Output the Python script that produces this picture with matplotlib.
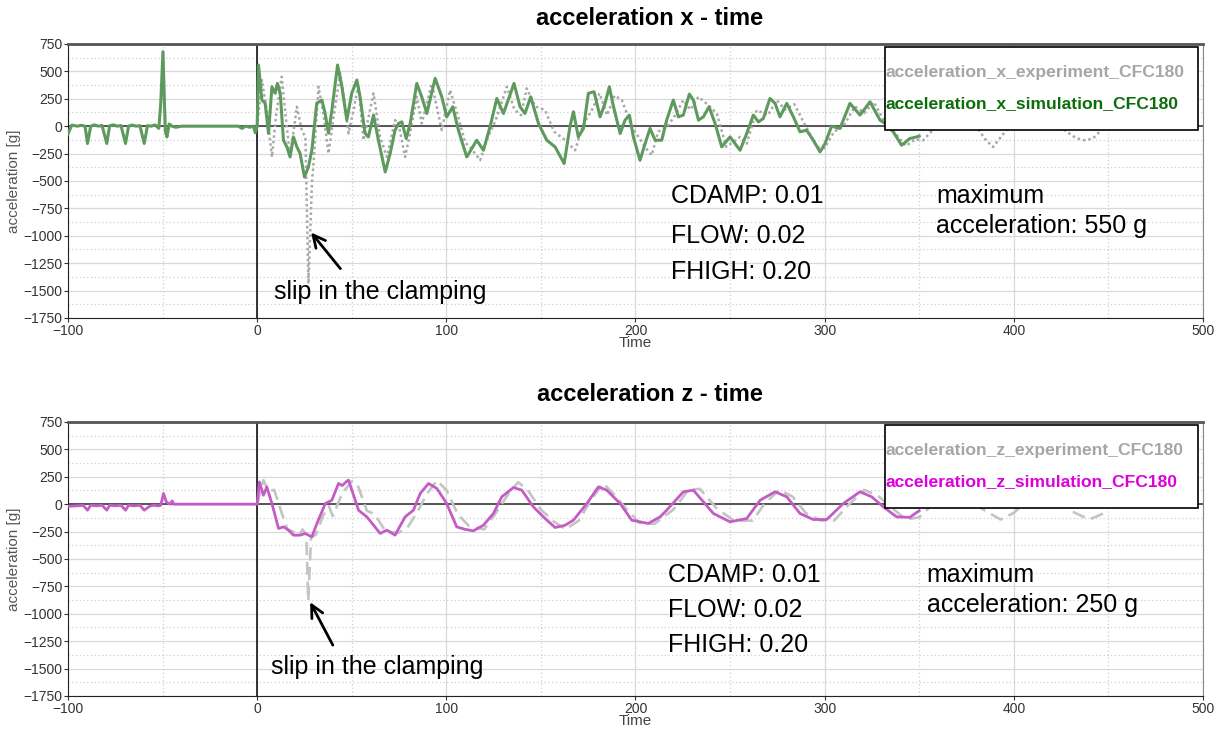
import numpy as np
import matplotlib
matplotlib.use('Agg')
import matplotlib.pyplot as plt
from matplotlib.patches import Rectangle
from matplotlib.ticker import MultipleLocator

# ---- data: (time, acceleration [g]) ----
accXSim = [
    (-100, -70), (-98, 10), (-95, 0), (-93, 8), (-91, 0), (-89.7, -158), (-88, 0), (-86, 12),
    (-84, 0), (-82, 6), (-79.5, -158), (-78, 4), (-76, 12), (-74, 0), (-72, 6), (-69.6, -158),
    (-68, 0), (-66, 10), (-64, 0), (-62, 5), (-59.7, -158), (-58, 5), (-56, 0), (-54, 12),
    (-52, -20), (-51, 200), (-49.8, 680), (-49, 200), (-48.5, -50), (-47.7, -98), (-46.5, 20),
    (-45, 0), (-43, -10), (-40, 0), (-10, 0), (-8, -20), (-6, 0), (-4, -10), (-2, 0), (-1, -60),
    (0, 0), (0.7, 558), (2.5, 238), (4.2, 210), (6, -67), (7.8, 360), (9.5, 300), (10.7, 390),
    (12.2, 300), (13.9, -128), (15.7, -189), (17.4, -281), (19.2, -98), (21, -189), (22.7, -250),
    (25, -464), (27.1, -372), (28.9, -220), (31.5, 210), (34.2, 238), (35.9, 119), (37.7, -64),
    (39.5, 146), (42.5, 558), (44.8, 360), (47.4, 55), (50, 300), (52.7, 421), (54.4, 268),
    (57, -64), (58.8, -98), (61.5, 101), (64.1, -128), (67.7, -418), (70.3, -250), (72.9, -37),
    (74.7, 25), (76.5, 39), (78.8, -113), (80.9, 25), (84.4, 390), (87, 268), (89.7, 116),
    (94.1, 436), (97.6, 268), (100.2, 85), (103.4, 177), (106.4, -37), (110.8, -281),
    (116.1, -128), (119.6, -220), (123.2, 0), (126.7, 253), (130.2, 116), (135.8, 390),
    (139, 177), (141.6, 116), (144.6, 268), (148.7, 25), (153.1, -128), (157.5, -189),
    (162.3, -341), (165.4, 0), (167.2, 131), (169.8, -98), (172.5, -21), (175.1, 300),
    (178.1, 314), (181.3, 85), (183.9, 208), (186.2, 360), (188.4, 177), (191.9, -67),
    (194.5, 55), (196.8, 101), (198.9, -98), (202.4, -311), (205.1, -159), (207.7, -21),
    (210.4, -128), (213.9, -128), (216.5, 55), (220, 238), (222.7, 85), (225.3, 101),
    (228.5, 293), (230.6, 238), (233.3, 55), (235.9, 85), (238.9, 177), (242.1, 25),
    (245.6, -189), (250, -98), (255.3, -220), (258.8, -67), (262.3, 101), (265, 39),
    (267.6, 70), (271.1, 253), (273.8, 208), (276.4, 85), (280, 208), (283.5, 85), (287, -52),
    (290.5, -37), (294, -128), (297.6, -235), (300.2, -159), (303.7, 0), (308.1, -21),
    (313.4, 208), (318.7, 101), (324, 222), (329.3, 55), (332, 25), (336.3, -52),
    (340.7, -174), (345, -113), (348.7, -98), (350, -90),
]
accXExp = [
    (0, 0), (2.5, 420), (5, 150), (7.8, -281), (10, 100), (13, 451), (15, 100), (17.4, -281),
    (21, 177), (23.6, -37), (25.5, -100), (27.1, -1437), (29, -500), (29.8, -341), (32.4, 360),
    (35, 116), (37.7, -250), (40.4, 85), (43.9, 482), (46, 250), (48.3, -67), (51, 150),
    (53.5, 380), (56.2, -128), (58.5, 50), (61.5, 300), (65, -98), (68.6, -281), (72.9, 55),
    (75, 0), (78.2, -281), (81, -50), (84.4, 268), (87, 25), (92.3, 390), (97.6, -37),
    (102, 329), (106, 100), (110, -150), (113, -200), (117.9, -311), (122, -100), (126, 50),
    (132, 360), (136, 150), (139.5, 100), (142.5, 345), (147, 180), (152.2, 146), (157, -50),
    (162.8, -128), (168.1, -220), (172, 0), (177, 150), (181, 300), (185, 100), (189, 280),
    (192.8, 238), (198, 0), (205, -189), (208.6, -265), (212, -50), (217, 0), (221, 100),
    (225.3, 238), (229, 150), (233.3, 268), (238, 200), (243, 116), (248, -189), (255.3, -98),
    (258.8, -159), (264.1, 146), (270, 100), (274.7, 238), (279, 150), (284, 200), (290, 0),
    (295.8, -189), (300, -200), (305, -50), (310, 0), (316, 180), (321, 120), (326, 220),
    (332, 30), (338, -80), (343, -180), (348, -120), (352, -130), (358, -20), (365, 150),
    (372, 100), (380, 0), (385, -120), (389, -190), (395, -60), (402, 80), (410, 150),
    (420, 50), (428, -50), (433, -110), (438, -130), (442, -110), (446, -40),
]
accZSim = [
    (-100, -20), (-95, -15), (-92, -10), (-89.7, -55), (-88, -10), (-85, -15), (-82, -10),
    (-79.5, -55), (-78, -10), (-75, -15), (-72, -10), (-69.6, -55), (-68, -10), (-65, -15),
    (-62, -10), (-59.7, -55), (-57, -20), (-55, -10), (-52, -15), (-51, -10), (-49.5, 98),
    (-48, 20), (-46, 0), (-45, 30), (-44, 0), (-40, 0), (0, 0), (1.2, 203), (3.3, 82),
    (5.1, 158), (7.8, 6), (11.3, -222), (13.9, -207), (16.6, -237), (19.2, -283), (22.7, -283),
    (25.4, -267), (28.9, -298), (31.6, -176), (36, 6), (39.5, 36), (43, 189), (45, 170),
    (47.4, 210), (48.3, 219), (51, 80), (53.6, -55), (58, -116), (61, -180), (65, -267),
    (68.6, -237), (72.9, -283), (78.2, -116), (82.6, -55), (86.2, 98), (90.6, 189), (95, 143),
    (100.2, 6), (105.5, -207), (110, -230), (114.3, -243), (119.6, -192), (124.9, -85),
    (129.3, 67), (135.5, 152), (139.9, 128), (146, -24), (151.3, -116), (157.5, -213),
    (162.8, -192), (167.2, -146), (174.3, 6), (180.4, 158), (184.8, 128), (191.9, 6),
    (198, -146), (206.8, -176), (213, -116), (216.5, -55), (225.3, 113), (230.6, 128),
    (241.2, -85), (250, -161), (258.8, -131), (265.9, 36), (273.8, 113), (280, 67),
    (287, -85), (294, -140), (301.1, -140), (309.9, 6), (318.7, 113), (324.9, 67),
    (331, -24), (338.1, -116), (345, -120), (350, -60),
]
accZExp = [
    (0, 0), (3.3, 219), (6, 120), (9, 130), (13, -80), (16, -230), (19, -250), (22, -290),
    (24, -230), (26, -280), (27, -880), (28.5, -300), (31, -280), (35, -100), (38, -20),
    (40, -110), (45, 100), (50, 210), (53, 180), (58, -60), (62, -90), (68, -250), (75, -260),
    (80, -200), (85, -60), (90, 100), (95, 215), (100, 130), (106, -90), (112, -200),
    (120, -230), (127, -60), (133, 100), (138, 200), (143, 130), (150, -50), (157, -160),
    (163, -230), (170, -150), (177, 50), (183, 190), (188, 100), (195, -40), (202, -170),
    (210, -180), (220, -50), (228, 130), (234, 140), (243, -40), (252, -150), (262, -150),
    (268, 0), (276, 130), (283, 70), (290, -80), (298, -150), (305, -150), (313, 0),
    (321, 130), (328, 80), (336, -40), (343, -140), (350, -120), (356, -20), (365, 100),
    (375, 100), (383, -40), (393, -140), (400, -80), (410, 80), (420, 100), (430, -60),
    (440, -140), (448, -80),
]

titles = ['acceleration x - time', 'acceleration z - time']
legendLabels = [['acceleration_x_experiment_CFC180', 'acceleration_x_simulation_CFC180'],
                ['acceleration_z_experiment_CFC180', 'acceleration_z_simulation_CFC180']]
paramLines = ['CDAMP: 0.01', 'FLOW: 0.02', 'FHIGH: 0.20']
maxLines = [['maximum', 'acceleration: 550 g'], ['maximum', 'acceleration: 250 g']]
slipText = 'slip in the clamping'

plt.rcParams['font.family'] = ['Liberation Sans', 'DejaVu Sans']
bigText = 18


def styleAxes(ax):
    ax.set_xlim(-100, 500)
    ax.set_ylim(-1750, 750)
    ax.xaxis.set_major_locator(MultipleLocator(100))
    ax.xaxis.set_minor_locator(MultipleLocator(50))
    ax.yaxis.set_major_locator(MultipleLocator(250))
    ax.yaxis.set_minor_locator(MultipleLocator(125))
    ax.grid(which='major', color='#d9d9d9', linewidth=0.9, linestyle='-')
    ax.grid(which='minor', color='#cfcfcf', linewidth=0.9, linestyle=(0, (1, 2)))
    ax.set_axisbelow(True)
    ax.tick_params(which='minor', length=0)
    ax.tick_params(which='major', length=3, width=0.8, color='#333333', pad=1,
                   labelsize=10, labelcolor='#333333')
    ax.spines['top'].set_color('#555555')
    ax.spines['top'].set_linewidth(2)
    ax.spines['right'].set_color('#888888')
    ax.spines['left'].set_color('#222222')
    ax.spines['bottom'].set_color('#222222')
    ax.axhline(0, color='#555555', linewidth=1.4, zorder=2)
    ax.axvline(0, color='black', linewidth=1.1, zorder=2)
    ax.set_xlabel('Time', fontsize=11, color='#444444', labelpad=-1)
    ax.set_ylabel('acceleration [g]', fontsize=11, color='#555555', labelpad=2)


def drawLegend(ax, labels, colors):
    ax.add_patch(Rectangle((0.72, 0.686), 0.2756, 0.303, transform=ax.transAxes,
                           facecolor='white', edgecolor='black', linewidth=1.2, zorder=10))
    ax.text(0.7205, 0.896, labels[0], transform=ax.transAxes, color=colors[0], fontsize=12.6,
            fontweight='bold', va='center', ha='left', zorder=11)
    ax.text(0.7205, 0.783, labels[1], transform=ax.transAxes, color=colors[1], fontsize=12.6,
            fontweight='bold', va='center', ha='left', zorder=11)


def drawNotes(ax, xParam, yParams, xMax, yMax, maxText, slipXY, arrowTail, arrowHead):
    for i, y in enumerate(yParams):
        ax.text(xParam, y, paramLines[i], fontsize=bigText, va='center', ha='left')
    ax.text(xMax, yMax[0], maxText[0], fontsize=bigText, va='center', ha='left')
    ax.text(xMax, yMax[1], maxText[1], fontsize=bigText, va='center', ha='left')
    ax.text(slipXY[0], slipXY[1], slipText, fontsize=bigText, va='center', ha='left')
    ax.annotate('', xy=arrowHead, xytext=arrowTail,
                arrowprops=dict(arrowstyle='->', color='black', lw=2, mutation_scale=22,
                                shrinkA=0, shrinkB=0))


fig = plt.figure(figsize=(12.19, 7.34), dpi=100)
axTop = fig.add_axes([0.0558, 0.5668, 0.931, 0.3733])
axBot = fig.add_axes([0.0558, 0.0518, 0.931, 0.3733])

# top: acceleration x
expX = np.array(accXExp)
simX = np.array(accXSim)
axTop.plot(expX[:, 0], expX[:, 1], color='#a8a8a8', linewidth=1.8, linestyle=(0, (1, 1.2)),
           zorder=3)
axTop.plot(simX[:, 0], simX[:, 1], color='#5e9a5e', linewidth=2.2, zorder=4,
           solid_joinstyle='round')
styleAxes(axTop)
drawLegend(axTop, legendLabels[0], ['#a6a6a6', '#0b6e0b'])

# bottom: acceleration z
expZ = np.array(accZExp)
simZ = np.array(accZSim)
axBot.plot(expZ[:, 0], expZ[:, 1], color='#c4c4c4', linewidth=1.9, linestyle=(0, (5, 2.5)),
           zorder=3)
axBot.plot(simZ[:, 0], simZ[:, 1], color='#c55cc5', linewidth=2.0, zorder=4,
           solid_joinstyle='round')
styleAxes(axBot)
drawLegend(axBot, legendLabels[1], ['#a6a6a6', '#dd00dd'])

fig.text(0.533, 0.975, titles[0], ha='center', va='center', fontsize=17, fontweight='bold')
fig.text(0.533, 0.462, titles[1], ha='center', va='center', fontsize=17, fontweight='bold')

drawNotes(axTop, 219, [-640, -1006, -1330], 359, [-640, -915], maxLines[0],
          (9, -1510), (44, -1300), (28.5, -970))
drawNotes(axBot, 217, [-648, -967, -1286], 354, [-648, -921], maxLines[1],
          (7.5, -1487), (40, -1286), (28, -894))

fig.savefig('out.png', dpi=100)
